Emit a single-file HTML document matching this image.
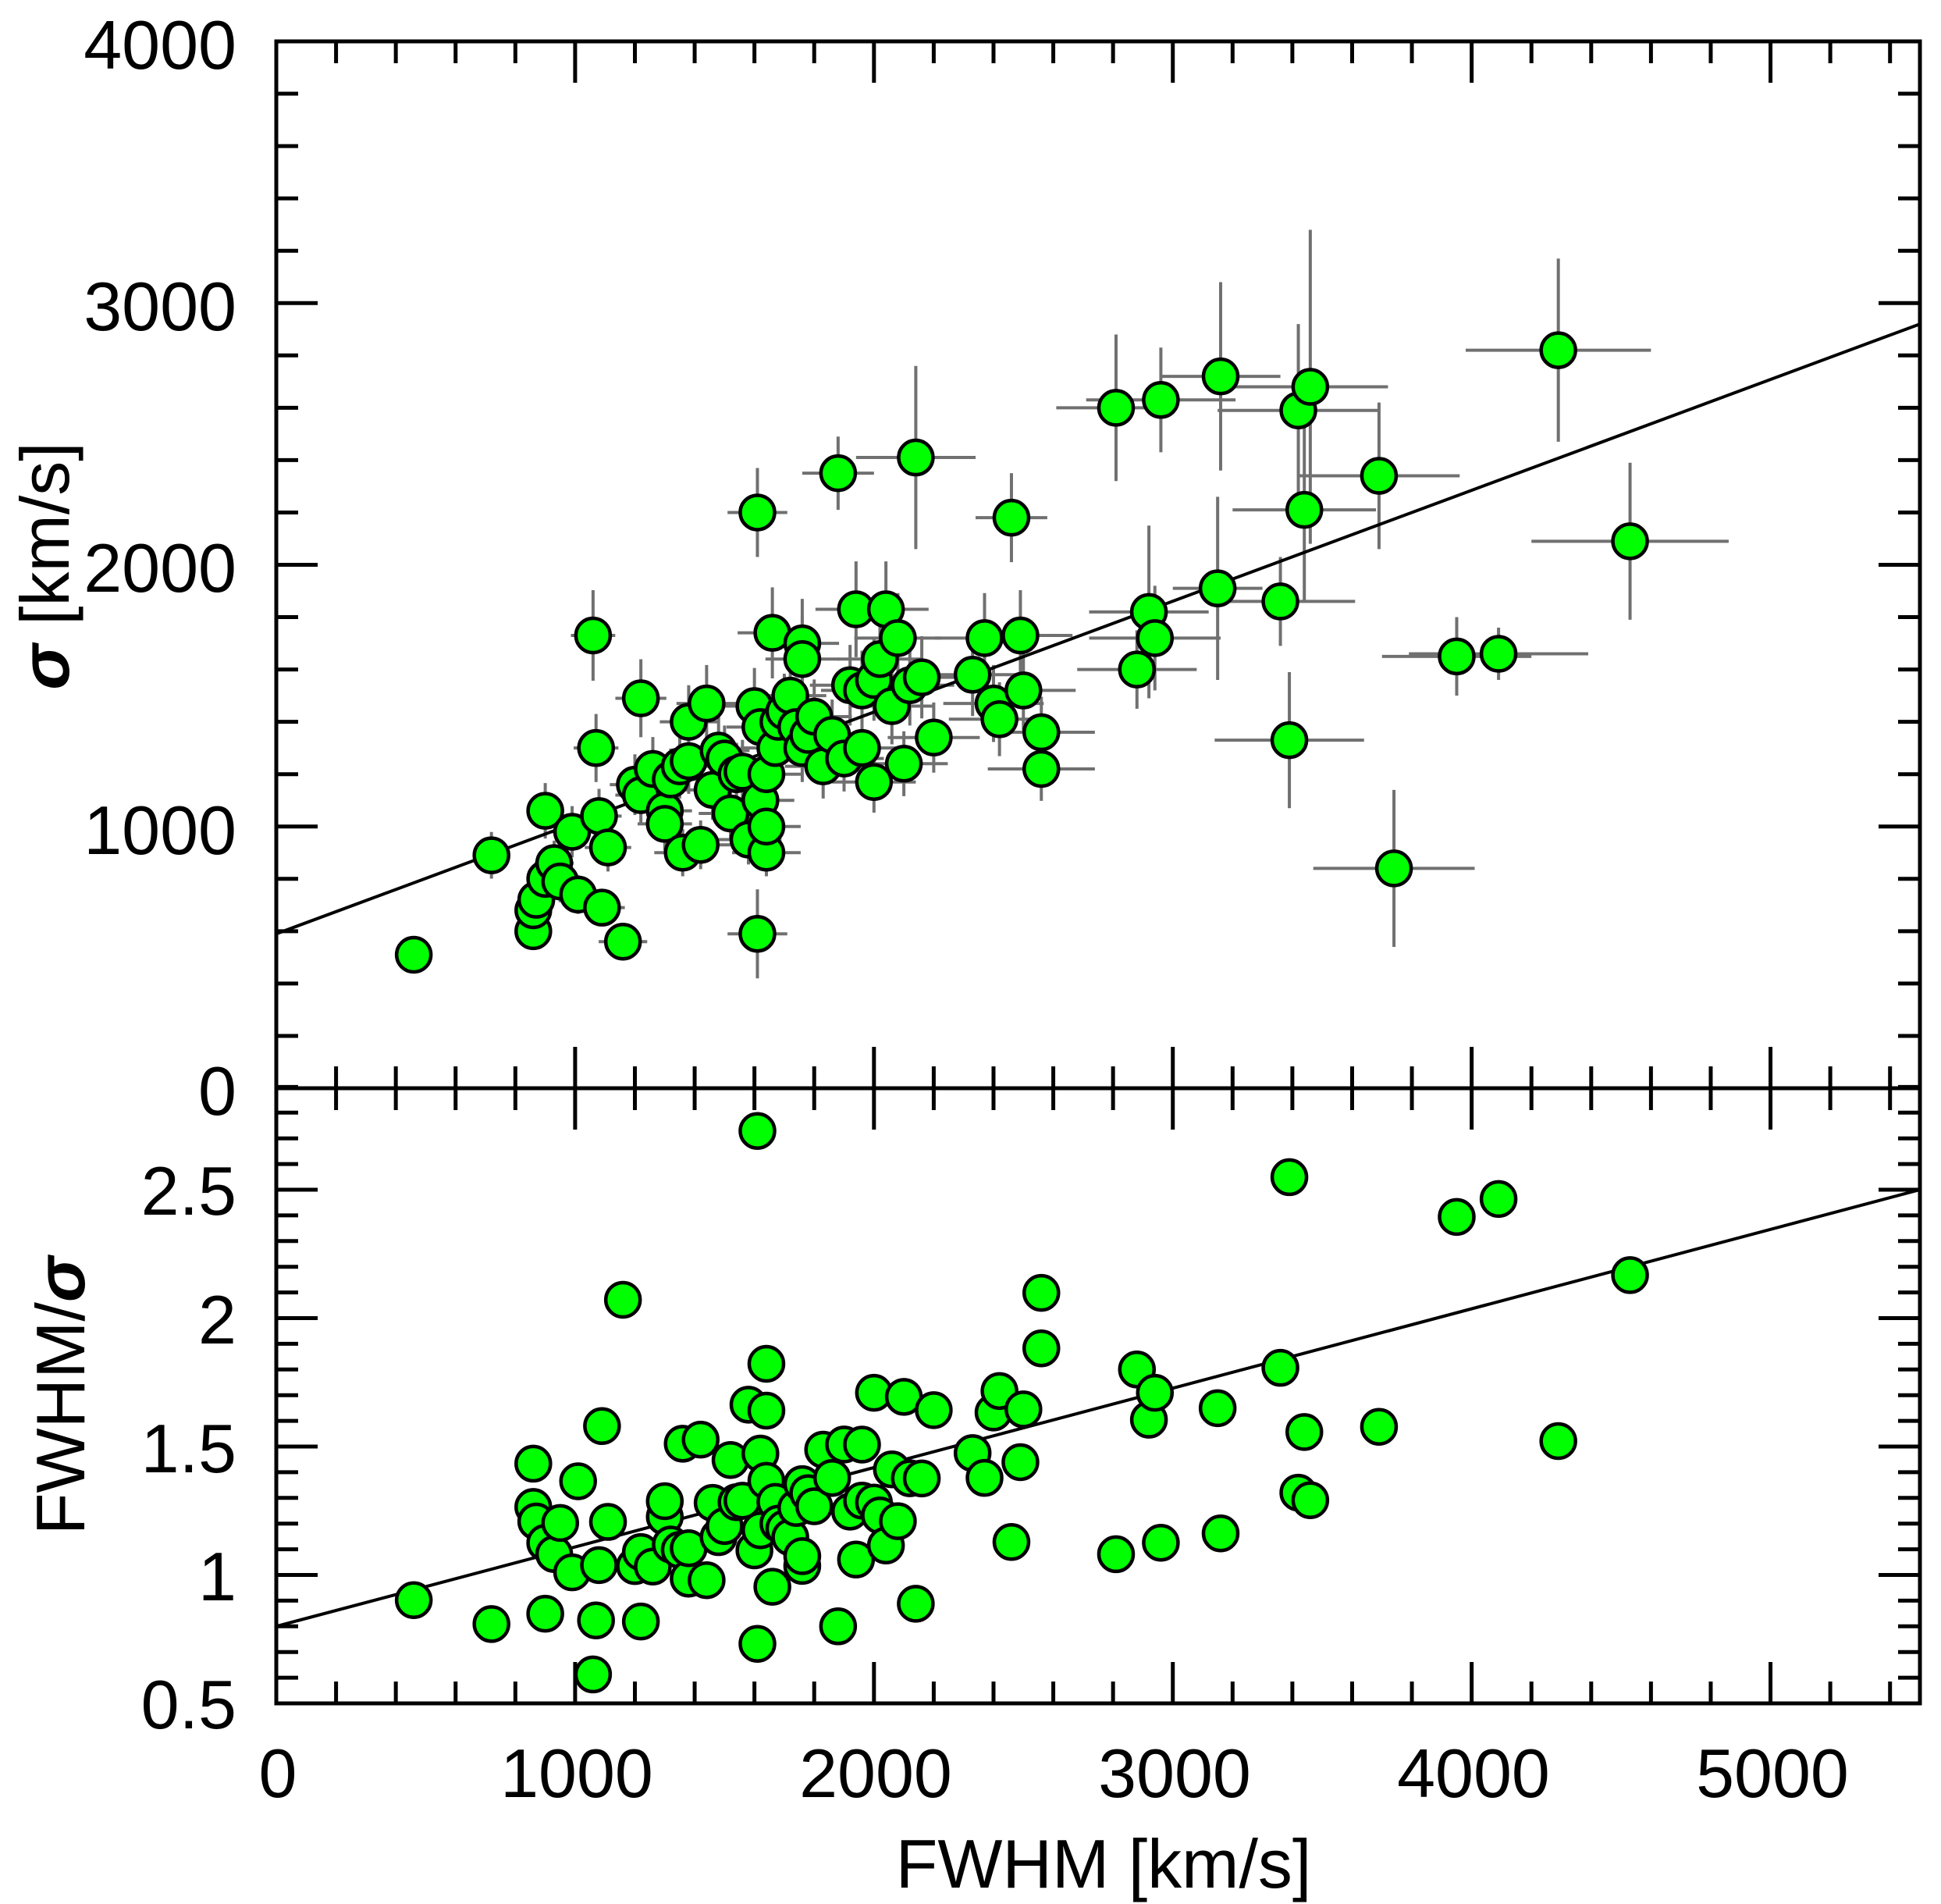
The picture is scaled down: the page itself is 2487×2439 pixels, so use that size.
<!DOCTYPE html>
<html><head><meta charset="utf-8">
<style>
html,body{margin:0;padding:0;background:#fff;}
svg{display:block;}
text{font-family:"Liberation Sans","DejaVu Sans",sans-serif;fill:#000;}
</style></head>
<body>
<svg id="s" width="2487" height="2439" viewBox="0 0 2487 2439" xmlns="http://www.w3.org/2000/svg">
<defs>
<clipPath id="cb"><rect x="354" y="1394" width="2106" height="788"/></clipPath>
<clipPath id="ct"><rect x="354" y="53" width="2106" height="1341"/></clipPath>
</defs>
<g id="err" stroke="#707070" stroke-width="4" fill="none" clip-path="url(#ct)"></g>
<g id="lines" stroke="#000" stroke-width="4" fill="none"></g>
<g id="pts" fill="#00ff00" stroke="#000" stroke-width="4.5" clip-path="url(#ct)"></g>
<g id="ptsb" fill="#00ff00" stroke="#000" stroke-width="4.5" clip-path="url(#cb)"></g>
<g id="ticks" stroke="#000" stroke-width="5" fill="none"></g>
<rect x="354" y="53" width="2106" height="2129" fill="none" stroke="#000" stroke-width="5"/>
<line x1="354" y1="1394" x2="2460" y2="1394" stroke="#000" stroke-width="5"/>
<g font-size="88" text-anchor="end">
<text x="303" y="88">4000</text>
<text x="303" y="423">3000</text>
<text x="303" y="758">2000</text>
<text x="303" y="1094">1000</text>
<text x="303" y="1428">0</text>
<text x="303" y="1556">2.5</text>
<text x="303" y="1721">2</text>
<text x="303" y="1886">1.5</text>
<text x="303" y="2050">1</text>
<text x="303" y="2214">0.5</text>
</g>
<g font-size="88" text-anchor="middle">
<text x="356" y="2302">0</text>
<text x="739" y="2302">1000</text>
<text x="1122" y="2302">2000</text>
<text x="1505" y="2302">3000</text>
<text x="1888" y="2302">4000</text>
<text x="2271" y="2302">5000</text>
<text x="1414" y="2418">FWHM [km/s]</text>
<text transform="translate(88,725) rotate(-90)"><tspan font-style="italic" font-weight="bold">σ</tspan> [km/s]</text>
<text transform="translate(108,1788) rotate(-90)">FWHM/<tspan font-style="italic" font-weight="bold">σ</tspan></text>
</g>
</svg>
<script>
const NS="http://www.w3.org/2000/svg";
const X0=354,X1=2460,YT=53,YM=1394,YB=2182;
const sx=v=>X0+v*(X1-X0)/5500;
const syT=v=>YM-v*(YM-YT)/4000;
const syB=v=>YB-(v-0.5)*329;
function el(p,t,a){const e=document.createElementNS(NS,t);for(const k in a)e.setAttribute(k,a[k]);document.getElementById(p).appendChild(e);}
function ln(p,x1,y1,x2,y2){el(p,'line',{x1,y1,x2,y2});}
for(let v=0;v<=5500;v+=200){const x=sx(v);const L=(v%1000===0)?53:28;
 ln('ticks',x,YT,x,YT+L);ln('ticks',x,YM-L,x,YM+L);ln('ticks',x,YB,x,YB-L);}
for(let v=0;v<=4000;v+=200){const y=syT(v);const L=(v%1000===0)?53:28;
 ln('ticks',X0,y,X0+L,y);ln('ticks',X1,y,X1-L,y);}
for(let i=5;i<=29;i++){const v=i/10;const y=syB(v);const L=(i%5===0)?53:28;
 ln('ticks',X0,y,X0+L,y);ln('ticks',X1,y,X1-L,y);}
ln('lines',sx(0),syT(590),sx(5500),syT(2920));
ln('lines',sx(0),syB(0.80),sx(5500),syB(2.50));
const D=[[460,510],[720,890],[860,600],[860,680],[870,720],[900,800],[900,1060],[930,860],[950,790],[990,980],[1010,740],[1060,1730],[1070,1300],[1080,1040],[1090,690],[1110,920],[1160,560],[1200,1160],[1220,1120],[1220,1490],[1260,1220],[1300,1060],[1300,1010],[1320,1180],[1350,1230],[1360,900],[1380,1400],[1380,1250],[1420,930],[1440,1470],[1460,1140],[1480,1290],[1500,1260],[1520,1050],[1540,1200],[1560,1210],[1580,950],[1600,1460],[1610,2200],[1610,590],[1620,1380],[1620,1100],[1640,900],[1640,1000],[1640,1200],[1660,1740],[1670,1300],[1680,1400],[1700,1440],[1720,1500],[1740,1380],[1760,1700],[1760,1640],[1760,1300],[1780,1350],[1800,1420],[1830,1230],[1860,1350],[1880,2350],[1900,1260],[1920,1540],[1940,1830],[1960,1300],[1960,1520],[2000,1560],[2000,1170],[2020,1640],[2040,1830],[2060,1460],[2080,1720],[2100,1240],[2120,1540],[2140,2410],[2160,1570],[2200,1340],[2330,1580],[2370,1720],[2400,1470],[2420,1410],[2460,2180],[2490,1730],[2500,1520],[2560,1360],[2560,1220],[2810,2600],[2880,1600],[2920,1820],[2940,1720],[2960,2630],[3150,1910],[3160,2720],[3360,1860],[3390,1330],[3420,2590],[3440,2210],[3460,2680],[3690,2340],[3740,840],[3950,1650],[4090,1660],[4290,2820],[4530,2090]];
const E={"4290":[310,350],"4530":[330,300],"3740":[270,300],"3390":[250,260],"3950":[250,150],"4090":[300,100],"3690":[270,280],"3460":[260,600],"3420":[270,330],"3440":[240,350],"3360":[250,170],"3160":[200,360],"3150":[150,350],"2960":[250,200],"2810":[200,280],"2940":[220,200],"2920":[200,330],"2880":[200,150],"2140":[200,350],"1880":[120,140],"1610":[100,170],"2460":[120,170]};
for(const [f,s] of D){let e=E[String(f)]||[f*0.07,s*0.1];
 const x=sx(f),y=syT(s);
 ln('err',sx(f-e[0]),y,sx(f+e[0]),y);ln('err',x,syT(s-e[1]),x,syT(s+e[1]));}
for(const [f,s] of D){el('pts','circle',{cx:sx(f),cy:syT(s),r:22});
 el('ptsb','circle',{cx:sx(f),cy:syB(f/s),r:22});}
</script>
</body></html>
